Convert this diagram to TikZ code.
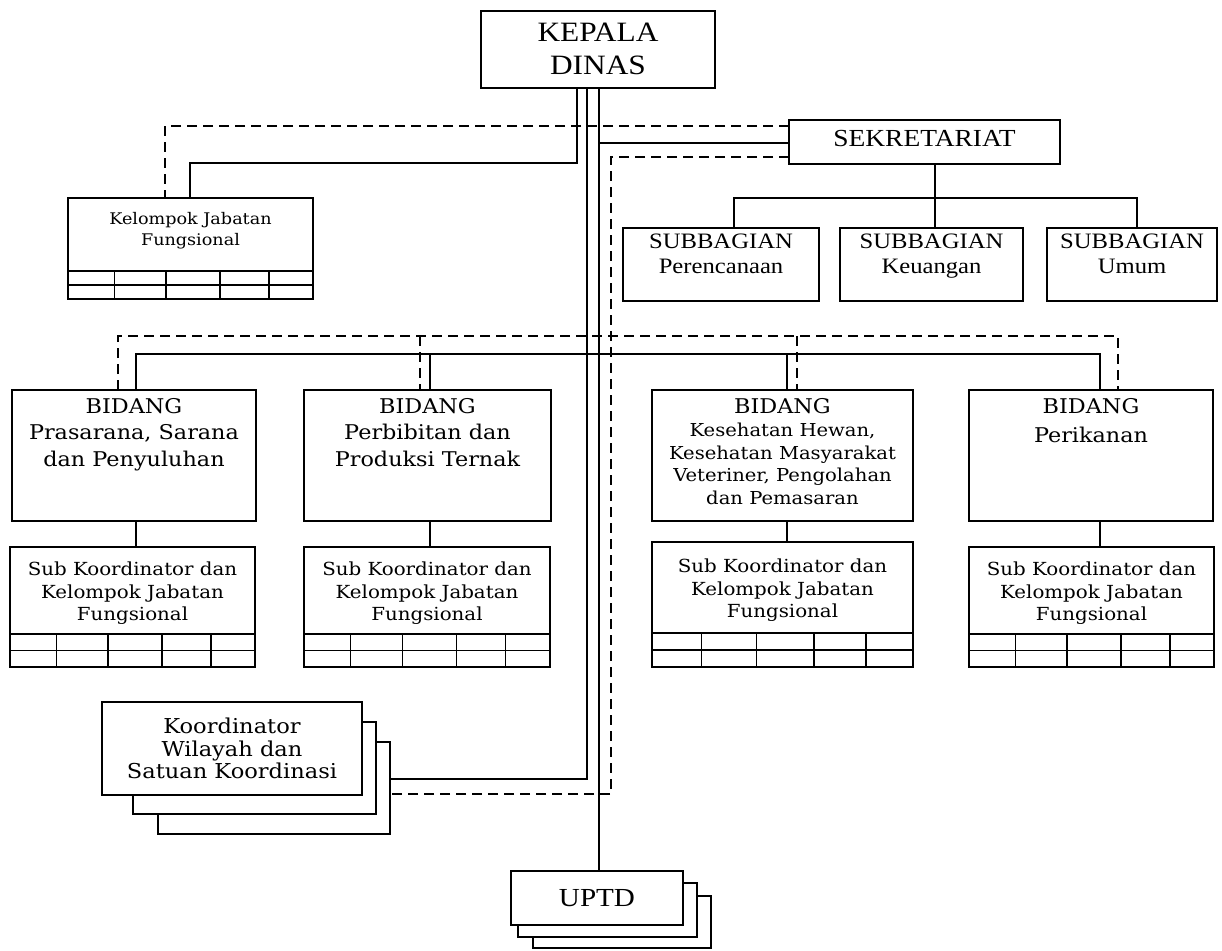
\documentclass[tikz,border=0pt]{standalone}
\usepackage{fontspec}
\setmainfont{Liberation Serif}
\newfontfamily\bodyfnt[FakeStretch=1.1]{DejaVu Serif}
\newfontfamily\hdfnt[FakeStretch=1.12]{Liberation Serif}
\usetikzlibrary{calc}
\tikzset{
  box/.style={draw, line width=1.6pt, fill=white, inner sep=0pt, outer sep=0pt},
  conn/.style={line width=1.4pt},
  dconn/.style={line width=1.4pt, dash pattern=on 10pt off 6pt},
  txt/.style={inner sep=0pt, outer sep=0pt, align=center},
}
\newcommand\celltable[2]{%
  \draw[line width=1.8pt] ([yshift=#2]#1.south west) -- ([yshift=#2]#1.south east);
  \draw[line width=1.3pt] ([yshift=#2/2]#1.south west) -- ([yshift=#2/2]#1.south east);
  \foreach \f in {0.19,0.40,0.62,0.82}
    \draw[line width=1.4pt] ($(#1.south west)!\f!(#1.south east)$) -- ++(0,#2);
}
\begin{document}
\begin{tikzpicture}[x=1pt,y=-1pt]
\path[use as bounding box, fill=white] (0,0) rectangle (1222,950);

% top
\node[box, minimum width=234, minimum height=77] (kepala) at (598,49.5) {};
\node[txt, font=\hdfnt\fontsize{28}{33}\selectfont] (kepalat) at ([yshift=1pt]kepala.center) {KEPALA\\DINAS};
\node[box, minimum width=271, minimum height=44] (sekr) at (924.5,142) {};
\node[txt, font=\hdfnt\fontsize{24.5}{28}\selectfont] (sekrt) at ([yshift=3pt]sekr.center) {SEKRETARIAT};

\node[box, minimum width=196, minimum height=73] (sp) at (721,264.5) {};
\node[box, minimum width=183, minimum height=73] (sk) at (931.5,264.5) {};
\node[box, minimum width=170, minimum height=73] (su) at (1132,264.5) {};
\foreach \n/\t in {sp/Perencanaan, sk/Keuangan, su/Umum}
  \node[txt, anchor=north, font=\hdfnt\fontsize{22}{25}\selectfont] (\n t) at ([yshift=-6pt]\n.north) {SUBBAGIAN\\\t};

% kelompok jabatan fungsional
\node[box, minimum width=245, minimum height=101] (kjf) at (190.5,248.5) {};
\node[txt, font=\bodyfnt\fontsize{16}{21}\selectfont] (kjft) at (190.5,231) {Kelompok Jabatan\\Fungsional};
\celltable{kjf}{28pt}

% bidang
\node[box, minimum width=244, minimum height=131] (b1) at (134,455.5) {};
\node[box, minimum width=247, minimum height=131] (b2) at (427.5,455.5) {};
\node[box, minimum width=261, minimum height=131] (b3) at (782.5,455.5) {};
\node[box, minimum width=244, minimum height=131] (b4) at (1091,455.5) {};
\node[txt, anchor=north, font=\bodyfnt\fontsize{20.3}{26.5}\selectfont] (b1t) at ([yshift=-8pt]b1.north) {BIDANG\\Prasarana, Sarana\\dan Penyuluhan};
\node[txt, anchor=north, font=\bodyfnt\fontsize{20.3}{26.5}\selectfont] (b2t) at ([yshift=-8pt]b2.north) {BIDANG\\Perbibitan dan\\Produksi Ternak};
\node[txt, anchor=north, font=\bodyfnt\fontsize{17.8}{22.5}\selectfont] (b3t) at ([yshift=-8pt]b3.north) {{\fontsize{20.3}{24}\selectfont BIDANG}\\[1pt]Kesehatan Hewan,\\Kesehatan Masyarakat\\Veteriner, Pengolahan\\dan Pemasaran};
\node[txt, anchor=north, font=\bodyfnt\fontsize{20.3}{29}\selectfont] (b4t) at ([yshift=-8pt]b4.north) {BIDANG\\Perikanan};

% sub koordinator
\node[box, minimum width=245, minimum height=120] (s1) at (132.5,607) {};
\node[box, minimum width=246, minimum height=120] (s2) at (427,607) {};
\node[box, minimum width=261, minimum height=125] (s3) at (782.5,604.5) {};
\node[box, minimum width=245, minimum height=120] (s4) at (1091.5,607) {};
\foreach \n in {s1,s2,s4}{
  \node[txt, font=\bodyfnt\fontsize{18}{22.5}\selectfont] (\n t) at ([yshift=13.5pt]\n.center) {Sub Koordinator dan\\Kelompok Jabatan\\Fungsional};
  \celltable{\n}{33pt}
}
\node[txt, font=\bodyfnt\fontsize{18}{22.5}\selectfont] (s3t) at ([yshift=14pt]s3.center) {Sub Koordinator dan\\Kelompok Jabatan\\Fungsional};
\celltable{s3}{34pt}

% koordinator wilayah
\node[box, minimum width=232, minimum height=92] (kor3) at (274,788) {};
\node[box, minimum width=243, minimum height=92] (kor2) at (254.5,768) {};
\node[box, minimum width=260, minimum height=93] (kor1) at (232,748.5) {};
\node[txt, font=\bodyfnt\fontsize{20.5}{22.5}\selectfont] (kor1t) at (kor1.center) {Koordinator\\Wilayah dan\\Satuan Koordinasi};

% uptd
\node[box, minimum width=178, minimum height=52] (uptd3) at (622,922) {};
\node[box, minimum width=179, minimum height=54] (uptd2) at (607.5,910) {};
\node[box, minimum width=172, minimum height=54] (uptd1) at (597,898) {};
\node[txt, font=\hdfnt\fontsize{26}{28}\selectfont] (uptdt) at (uptd1.center) {UPTD};

% connectors from kepala dinas
\draw[conn] (kepala.south -| 577,0) |- (190,163) -- (kjf.north -| 190,0);
\draw[conn] (kepala.south -| 587,0) |- (kor3.east |- 0,779);
\draw[conn] (kepala.south -| 599,0) -- (uptd1.north -| 599,0);
\draw[conn] (599,143) -- (sekr.west |- 0,143);
\draw[dconn] (sekr.west |- 0,126) -| (kjf.north -| 165,0);
\draw[dconn] (sekr.west |- 0,157) -| (611,794) -- (kor3.east |- 0,794);

% sekretariat to subbagian
\draw[conn] (sekr.south -| 935,0) -- (sk.north -| 935,0);
\draw[conn] (sp.north -| 734,0) -- (734,198) -- (1137,198) -- (su.north -| 1137,0);

% bidang buses
\draw[conn] (b1.north -| 136,0) -- (136,354) -- (1100,354) -- (b4.north -| 1100,0);
\draw[conn] (430,354) -- (b2.north -| 430,0);
\draw[conn] (787,354) -- (b3.north -| 787,0);
\draw[dconn] (b1.north -| 118,0) -- (118,336) -- (1118,336) -- (b4.north -| 1118,0);
\draw[dconn] (420,336) -- (b2.north -| 420,0);
\draw[dconn] (797,336) -- (b3.north -| 797,0);

% bidang to sub
\draw[conn] (b1.south -| 136,0) -- (s1.north -| 136,0);
\draw[conn] (b2.south -| 430,0) -- (s2.north -| 430,0);
\draw[conn] (b3.south -| 787,0) -- (s3.north -| 787,0);
\draw[conn] (b4.south -| 1100,0) -- (s4.north -| 1100,0);
\end{tikzpicture}
\end{document}
